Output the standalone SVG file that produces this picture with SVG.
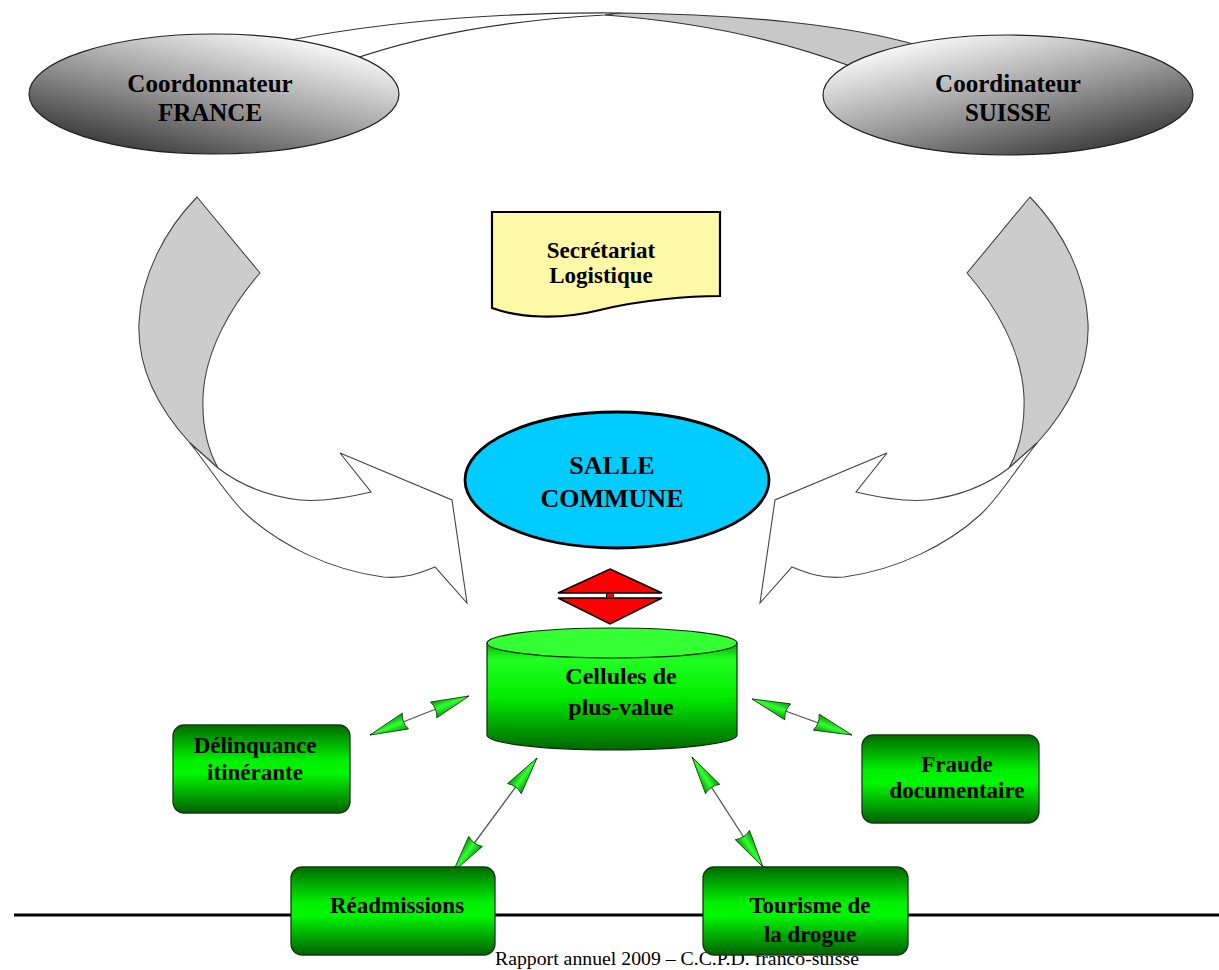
<svg xmlns="http://www.w3.org/2000/svg" width="1219" height="970" viewBox="0 0 1219 970">
<style>
.t{font-family:"Liberation Serif","Times New Roman",serif;font-weight:bold;text-anchor:middle;fill:#000}
.band{stroke:#333;stroke-width:1.2}
.arw{stroke:#444;stroke-width:1.1}
.box{stroke:#143814;stroke-width:1.3}
.conn{stroke:#555;stroke-width:1.3;fill:none;marker-start:url(#ah);marker-end:url(#ah)}
</style>
<defs>
<linearGradient id="gFr" x1="0.15" y1="0.95" x2="0.8" y2="0.1">
<stop offset="0" stop-color="#333"/><stop offset="0.5" stop-color="#9a9a9a"/><stop offset="1" stop-color="#f6f6f6"/>
</linearGradient>
<linearGradient id="gCh" x1="0.2" y1="0.1" x2="0.85" y2="0.95">
<stop offset="0" stop-color="#f6f6f6"/><stop offset="0.5" stop-color="#9a9a9a"/><stop offset="1" stop-color="#333"/>
</linearGradient>
<linearGradient id="gBox" x1="0" y1="0" x2="0" y2="1">
<stop offset="0" stop-color="#006a00"/><stop offset="0.4" stop-color="#00f000"/><stop offset="0.55" stop-color="#00f800"/><stop offset="1" stop-color="#006000"/>
</linearGradient>
<linearGradient id="gCyl" x1="0" y1="0" x2="0" y2="1">
<stop offset="0" stop-color="#00aa00"/><stop offset="0.15" stop-color="#22ff22"/><stop offset="0.5" stop-color="#00ee00"/><stop offset="1" stop-color="#006600"/>
</linearGradient>
<linearGradient id="gHead" x1="0" y1="0" x2="0" y2="1">
<stop offset="0" stop-color="#00a000"/><stop offset="0.5" stop-color="#33ff33"/><stop offset="1" stop-color="#00a000"/>
</linearGradient>
<marker id="ah" viewBox="-40 -10 42 20" refX="0" refY="0" markerWidth="42" markerHeight="20" markerUnits="userSpaceOnUse" orient="auto-start-reverse">
<path d="M0,0 L-38,-8.5 Q-34,0 -38,8.5 Z" fill="url(#gHead)" stroke="#0a3a0a" stroke-width="0.8"/>
</marker>
<g id="curvedArrow">
<path class="arw" fill="#cccccc" d="M197,197 L260,273 C232,305 205,350 203,397 C202,425 208,450 218,468 L190,443 C160,410 137,370 139,323 C141,275 165,230 197,197 Z"/>
<path class="arw" fill="#ffffff" d="M190,443 C215,475 230,500 247,515 C280,545 330,570 383,577 C405,579 420,573 435,567 L467,603 L452,500 L340,453 L371,492 C345,498 320,502 300,500 C265,496 240,485 218,468 Z"/>
</g>
</defs>
<rect width="1219" height="970" fill="#ffffff"/>

<g id="topBand">
<path class="band" fill="#ffffff" d="M620,13 C500,12 380,22 280,42 L345,62 C420,35 510,20 605,15 Z"/>
<path class="band" fill="#c8c8c8" d="M620,13 C740,14 850,25 920,46 L850,66 C780,40 700,22 605,15 Z"/>
</g>

<g id="arrowLeft"><use href="#curvedArrow"/></g>
<g id="arrowRight"><use href="#curvedArrow" transform="translate(1227,0) scale(-1,1)"/></g>

<g id="coordFrance">
<ellipse cx="214" cy="94" rx="185" ry="60" fill="url(#gFr)" stroke="#222" stroke-width="1.2"/>
<text class="t" x="210" y="92" font-size="25">Coordonnateur</text>
<text class="t" x="210" y="121" font-size="25">FRANCE</text>
</g>

<g id="coordSuisse">
<ellipse cx="1008" cy="95" rx="185" ry="60" fill="url(#gCh)" stroke="#222" stroke-width="1.2"/>
<text class="t" x="1008" y="92" font-size="25">Coordinateur</text>
<text class="t" x="1008" y="121" font-size="25">SUISSE</text>
</g>

<g id="secretariat">
<path d="M492,212 L720,212 L720,296 C690,296 640,300 600,310 C560,320 520,318 492,308 Z" fill="#fff8a6" stroke="#000" stroke-width="2.2"/>
<text class="t" x="601" y="258" font-size="23">Secrétariat</text>
<text class="t" x="601" y="283" font-size="23">Logistique</text>
</g>

<g id="salleCommune">
<ellipse cx="617" cy="480" rx="152" ry="68" fill="#00ccff" stroke="#000" stroke-width="2.8"/>
<text class="t" x="612" y="474" font-size="26">SALLE</text>
<text class="t" x="612" y="507" font-size="26">COMMUNE</text>
</g>

<g id="diamond">
<polygon points="610,569 662,593 558,593" fill="#ff0000" stroke="#000" stroke-width="1.5"/>
<polygon points="558,598 662,598 610,624" fill="#ff0000" stroke="#000" stroke-width="1.5"/>
<rect x="606.5" y="593" width="7" height="5" fill="#ff0000" stroke="#000" stroke-width="1"/>
</g>

<g id="connectors">
<line class="conn" x1="469" y1="696" x2="370" y2="735"/>
<line class="conn" x1="752" y1="699" x2="852" y2="735"/>
<line class="conn" x1="537" y1="758" x2="453" y2="872"/>
<line class="conn" x1="692" y1="757" x2="763" y2="867"/>
</g>

<g id="cellules">
<path d="M487,643 L487,735 A125,15 0 0 0 737,735 L737,643 Z" fill="url(#gCyl)" stroke="#0a2a0a" stroke-width="1.2"/>
<ellipse cx="612" cy="643" rx="125" ry="15" fill="#33ff33" stroke="#0a2a0a" stroke-width="1.2"/>
<text class="t" x="621" y="684" font-size="24">Cellules de</text>
<text class="t" x="621" y="715" font-size="24">plus-value</text>
</g>

<g id="footer">
<line x1="14" y1="915" x2="1219" y2="915" stroke="#000" stroke-width="3"/>
<text x="495" y="965" font-family="Liberation Serif, Times New Roman, serif" font-size="18" fill="#000" textLength="364" lengthAdjust="spacingAndGlyphs">Rapport annuel 2009 – C.C.P.D. franco-suisse</text>
</g>

<g id="delinquance">
<rect class="box" x="173" y="725" width="177" height="88" rx="11" fill="url(#gBox)"/>
<text class="t" x="255" y="753" font-size="23">Délinquance</text>
<text class="t" x="255" y="780" font-size="23">itinérante</text>
</g>

<g id="fraude">
<rect class="box" x="862" y="735" width="177" height="88" rx="11" fill="url(#gBox)"/>
<text class="t" x="957" y="772" font-size="23">Fraude</text>
<text class="t" x="957" y="798" font-size="23">documentaire</text>
</g>

<g id="readmissions">
<rect class="box" x="291" y="867" width="204" height="88" rx="11" fill="url(#gBox)"/>
<text class="t" x="397" y="913" font-size="23">Réadmissions</text>
</g>

<g id="tourisme">
<rect class="box" x="703" y="867" width="205" height="88" rx="11" fill="url(#gBox)"/>
<text class="t" x="810" y="913" font-size="23">Tourisme de</text>
<text class="t" x="810" y="942" font-size="23">la drogue</text>
</g>
</svg>
